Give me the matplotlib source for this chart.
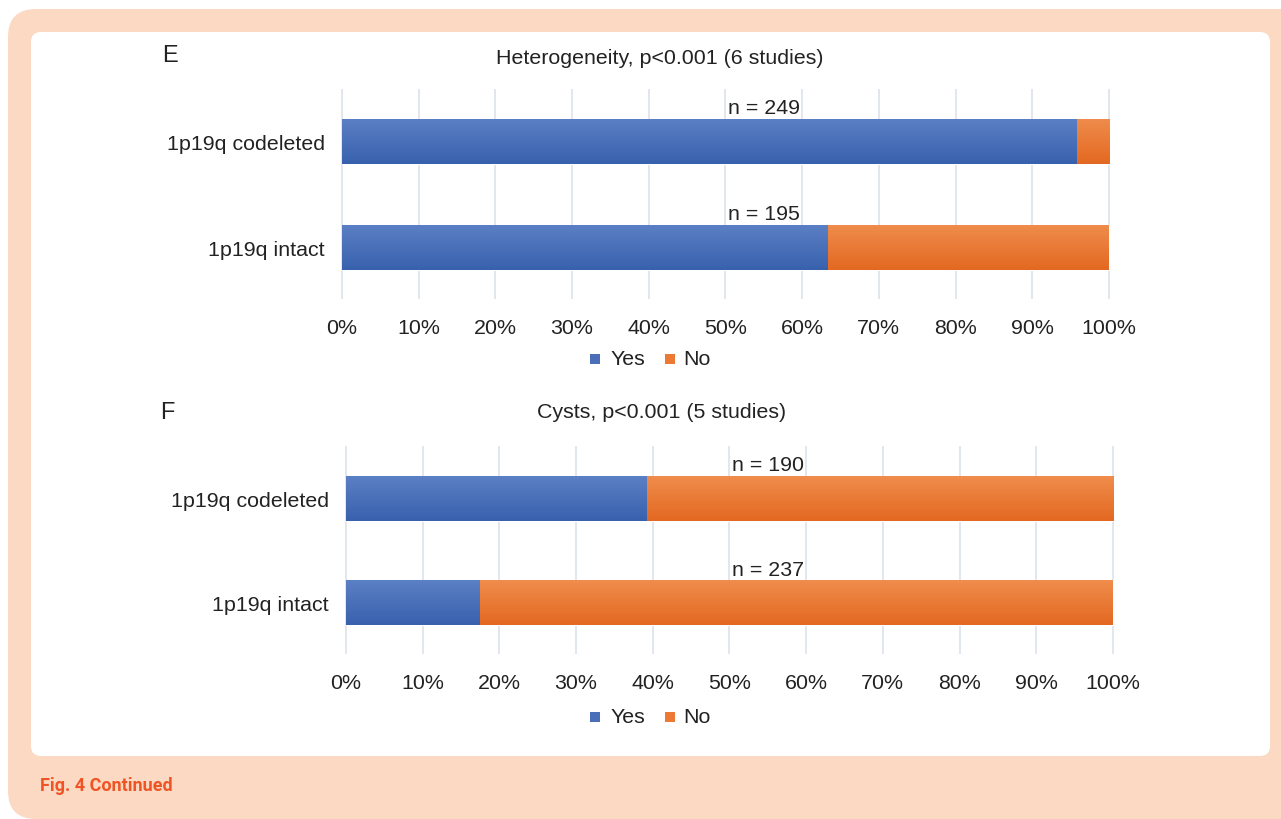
import numpy as np
import matplotlib.pyplot as plt
from matplotlib.patches import FancyBboxPatch

plt.rcParams['font.family'] = ['Liberation Sans', 'DejaVu Sans']

categories = ['1p19q intact', '1p19q codeleted']
ticks = np.arange(0, 101, 10)
tick_labels = [f'{t}%' for t in ticks]

# panel E: heterogeneity
het_yes = [63.4, 95.8]
het_no = [36.6, 4.2]
het_n = ['n = 195', 'n = 249']
# panel F: cysts
cyst_yes = [17.5, 39.2]
cyst_no = [82.5, 60.8]
cyst_n = ['n = 237', 'n = 190']

W, H = 1281, 820
fig = plt.figure(figsize=(W / 100, H / 100), dpi=100)

# background frame
bg = fig.add_axes([0, 0, 1, 1], zorder=-10)
bg.set_xlim(0, W)
bg.set_ylim(H, 0)
bg.axis('off')
bg.add_patch(FancyBboxPatch((8 + 25, 10 + 25), W + 60, 810 - 50,
                            boxstyle='round,pad=25,rounding_size=28',
                            fc='#fcd9c3', ec='none'))
bg.add_patch(FancyBboxPatch((31 + 8, 33 + 8), 1270 - 31 - 16, 757 - 33 - 16,
                            boxstyle='round,pad=8,rounding_size=10',
                            fc='white', ec='none'))
bg.text(40, 786, 'Fig. 4 Continued', color='#ef5524', fontsize=13,
        fontweight='bold', va='center', ha='left',
        family=['Liberation Sans Narrow', 'Roboto', 'DejaVu Sans'])

blue_grad = [(0.36, 0.50, 0.77), (0.22, 0.38, 0.68)]
orange_grad = [(0.94, 0.55, 0.30), (0.89, 0.41, 0.13)]
FS = 15.4


def grad_bar(ax, y, left, width, colors, h=0.43):
    bar = ax.barh(y, width, left=left, height=h, color=colors[1],
                  edgecolor='white', linewidth=0.8, zorder=3)[0]
    g = np.linspace(0, 1, 64)[:, None, None]
    c0, c1 = np.array(colors[0]), np.array(colors[1])
    img = c0 + (c1 - c0) * g
    im = ax.imshow(img, extent=[left, left + width, y - h / 2, y + h / 2],
                   aspect='auto', zorder=3.5, interpolation='bicubic')
    im.set_clip_path(bar)


def panel(rect, letter, letter_xy, title, title_xy, yes, no, ns, leg_y):
    ax = fig.add_axes(rect)
    y = np.arange(len(categories))
    for i in y:
        grad_bar(ax, i, 0, yes[i], blue_grad)
        grad_bar(ax, i, yes[i], no[i], orange_grad)
        ax.text(55, i + 0.23, ns[i], ha='center', va='bottom', fontsize=FS,
                color='#222222', zorder=5)
    ax.set_xticks(ticks)
    ax.set_xticklabels(tick_labels, fontsize=FS, color='#222222')
    ax.set_yticks(y)
    ax.set_yticklabels(categories, fontsize=FS, color='#222222')
    ax.tick_params(length=0, axis='y', pad=11)
    ax.tick_params(length=0, axis='x', pad=14)
    ax.grid(axis='x', color='#dde2ea', lw=1.2, zorder=0)
    ax.set_axisbelow(True)
    for s in ax.spines.values():
        s.set_visible(False)
    ax.set_xlim(-0.26, 100.4)
    ax.set_ylim(-0.49, 1.5)
    bg.text(*letter_xy, letter, fontsize=17, color='#222222', va='center')
    bg.text(*title_xy, title, fontsize=FS, color='#222222', ha='center', va='center')
    # legend
    bg.add_patch(plt.Rectangle((590, leg_y - 5), 10, 10, fc='#4a6fb8', ec='none'))
    bg.text(611, leg_y, 'Yes', fontsize=FS, color='#222222', va='center')
    bg.add_patch(plt.Rectangle((665, leg_y - 5), 10, 10, fc='#ec7a35', ec='none'))
    bg.text(683, leg_y, 'No', fontsize=FS, color='#222222', va='center')
    return ax


panel([340 / W, 1 - 300 / H, 772 / W, 210 / H], 'E', (162, 56),
      'Heterogeneity, p<0.001 (6 studies)', (660, 59),
      het_yes, het_no, het_n, 360)
panel([344 / W, 1 - 655 / H, 772 / W, 208 / H], 'F', (160, 413),
      'Cysts, p<0.001 (5 studies)', (662, 413),
      cyst_yes, cyst_no, cyst_n, 718)

fig.savefig('out.png', dpi=100)
